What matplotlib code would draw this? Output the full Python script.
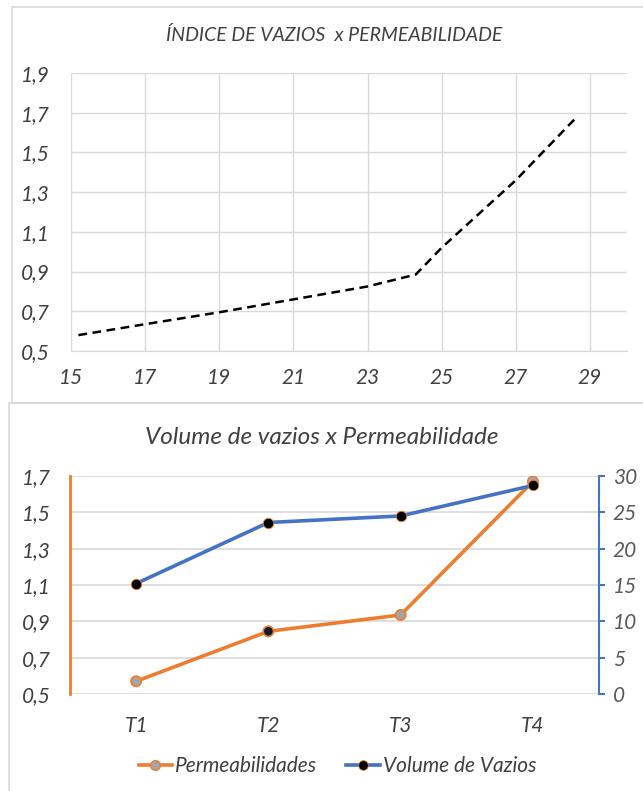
import matplotlib.pyplot as plt
from matplotlib.patches import Rectangle

# Gráfico 1: índice de vazios x permeabilidade
indice_x = [15.2, 17, 19, 21, 23, 24.3, 25, 27, 28.6]
indice_y = [0.58, 0.635, 0.695, 0.76, 0.825, 0.885, 1.02, 1.36, 1.67]
ticks_x1 = [15, 17, 19, 21, 23, 25, 27, 29]
ticks_y1 = [0.5, 0.7, 0.9, 1.1, 1.3, 1.5, 1.7, 1.9]

# Gráfico 2: volume de vazios x permeabilidade
ensaios = ['T1', 'T2', 'T3', 'T4']
permeabilidades = [0.57, 0.845, 0.935, 1.67]
volume_vazios = [15.2, 23.6, 24.5, 28.7]
ticks_y2 = [0.5, 0.7, 0.9, 1.1, 1.3, 1.5, 1.7]
ticks_vol = [0, 5, 10, 15, 20, 25, 30]

laranja = '#ED7D31'
azul = '#4472C4'
cinza_grid = '#d9d9d9'
cor_texto = '#404040'

plt.rcParams['font.family'] = ['Lato', 'DejaVu Sans']
plt.rcParams['font.style'] = 'italic'


def virgula(v):
    return ('%g' % v).replace('.', ',')


fig = plt.figure(figsize=(6.43, 7.91), dpi=100)

# molduras dos dois gráficos
fig.patches.append(Rectangle((12 / 643, 1 - 403 / 791), 1.0, 396 / 791,
                             transform=fig.transFigure, fill=False,
                             edgecolor=cinza_grid, lw=1.2))
fig.patches.append(Rectangle((9 / 643, -0.01), 1.0, 1 - 403 / 791 + 0.01,
                             transform=fig.transFigure, fill=False,
                             edgecolor=cinza_grid, lw=1.2))

# ---- gráfico de cima ----
ax1 = fig.add_axes([71 / 643, 1 - 351 / 791, 556 / 643, 278 / 791])
ax1.plot(indice_x, indice_y, color='black', lw=1.8, ls=(0, (3.5, 2.2)))
ax1.set_xlim(15, 30)
ax1.set_ylim(0.5, 1.9)
ax1.set_xticks(ticks_x1)
ax1.set_xticklabels([virgula(v) for v in ticks_x1])
ax1.set_yticks(ticks_y1)
ax1.set_yticklabels([virgula(v) for v in ticks_y1])
ax1.grid(True, color=cinza_grid, lw=1)
for s in ['top', 'right', 'left']:
    ax1.spines[s].set_visible(False)
ax1.spines['bottom'].set_color(cinza_grid)
ax1.tick_params(axis='y', length=0, labelsize=15, colors=cor_texto, pad=15)
ax1.tick_params(axis='x', length=0, labelsize=15, colors=cor_texto, pad=12)
ax1.set_axisbelow(True)
fig.text(0.52, 1 - 35 / 791, 'ÍNDICE DE VAZIOS  x PERMEABILIDADE',
         ha='center', va='center', fontsize=14, color=cor_texto)

# ---- gráfico de baixo ----
ax2 = fig.add_axes([70 / 643, 1 - 694 / 791, 529 / 643, 218 / 791])
pos = range(len(ensaios))
ax2.plot(pos, permeabilidades, color=laranja, lw=2.6, zorder=3)
ax2.scatter(pos, permeabilidades, s=55, zorder=4,
            facecolors=['#a5a5a5', '#111a33', '#a5a5a5', '#a5a5a5'],
            edgecolors=laranja, linewidths=1.2)
ax2.set_xlim(-0.5, 3.5)
ax2.set_ylim(0.5, 1.7)
ax2.set_xticks(list(pos))
ax2.set_xticklabels(ensaios)
ax2.set_yticks(ticks_y2)
ax2.set_yticklabels([virgula(v) for v in ticks_y2])
ax2.yaxis.grid(True, color=cinza_grid, lw=1.2)
ax2.set_axisbelow(True)
for s in ['top', 'right', 'bottom']:
    ax2.spines[s].set_visible(False)
ax2.spines['left'].set_color(laranja)
ax2.spines['left'].set_linewidth(2)
ax2.tick_params(axis='y', length=0, labelsize=15, colors=cor_texto, pad=14)
ax2.tick_params(axis='x', length=0, labelsize=15, colors=cor_texto, pad=16)

ax3 = ax2.twinx()
ax3.plot(pos, volume_vazios, color=azul, lw=2.6, marker='o', ms=7.5,
         mfc='black', mec=laranja, mew=0.6, zorder=5)
ax3.set_ylim(0, 30)
ax3.set_yticks(ticks_vol)
for s in ['top', 'left', 'bottom']:
    ax3.spines[s].set_visible(False)
ax3.spines['right'].set_color(azul)
ax3.spines['right'].set_linewidth(1.5)
ax3.tick_params(axis='y', direction='out', length=4, width=1.5, color=azul,
                labelsize=15, labelcolor='#595959', pad=6)

fig.text(0.50, 1 - 437 / 791, 'Volume de vazios x Permeabilidade',
         ha='center', va='center', fontsize=17.5, color=cor_texto)

h1 = plt.Line2D([], [], color=laranja, lw=2.6, marker='o', ms=7,
                mfc='#a5a5a5', mec=laranja)
h2 = plt.Line2D([], [], color=azul, lw=2.6, marker='o', ms=7,
                mfc='black', mec=laranja, mew=0.6)
fig.legend([h1, h2], ['Permeabilidades', 'Volume de Vazios'],
           loc='center', bbox_to_anchor=(0.525, 1 - 766 / 791), ncol=2,
           frameon=False, fontsize=15, handlelength=1.6, handletextpad=0.15,
           columnspacing=1.4, labelcolor=cor_texto)

fig.savefig('out.png', dpi=100, facecolor='white')
